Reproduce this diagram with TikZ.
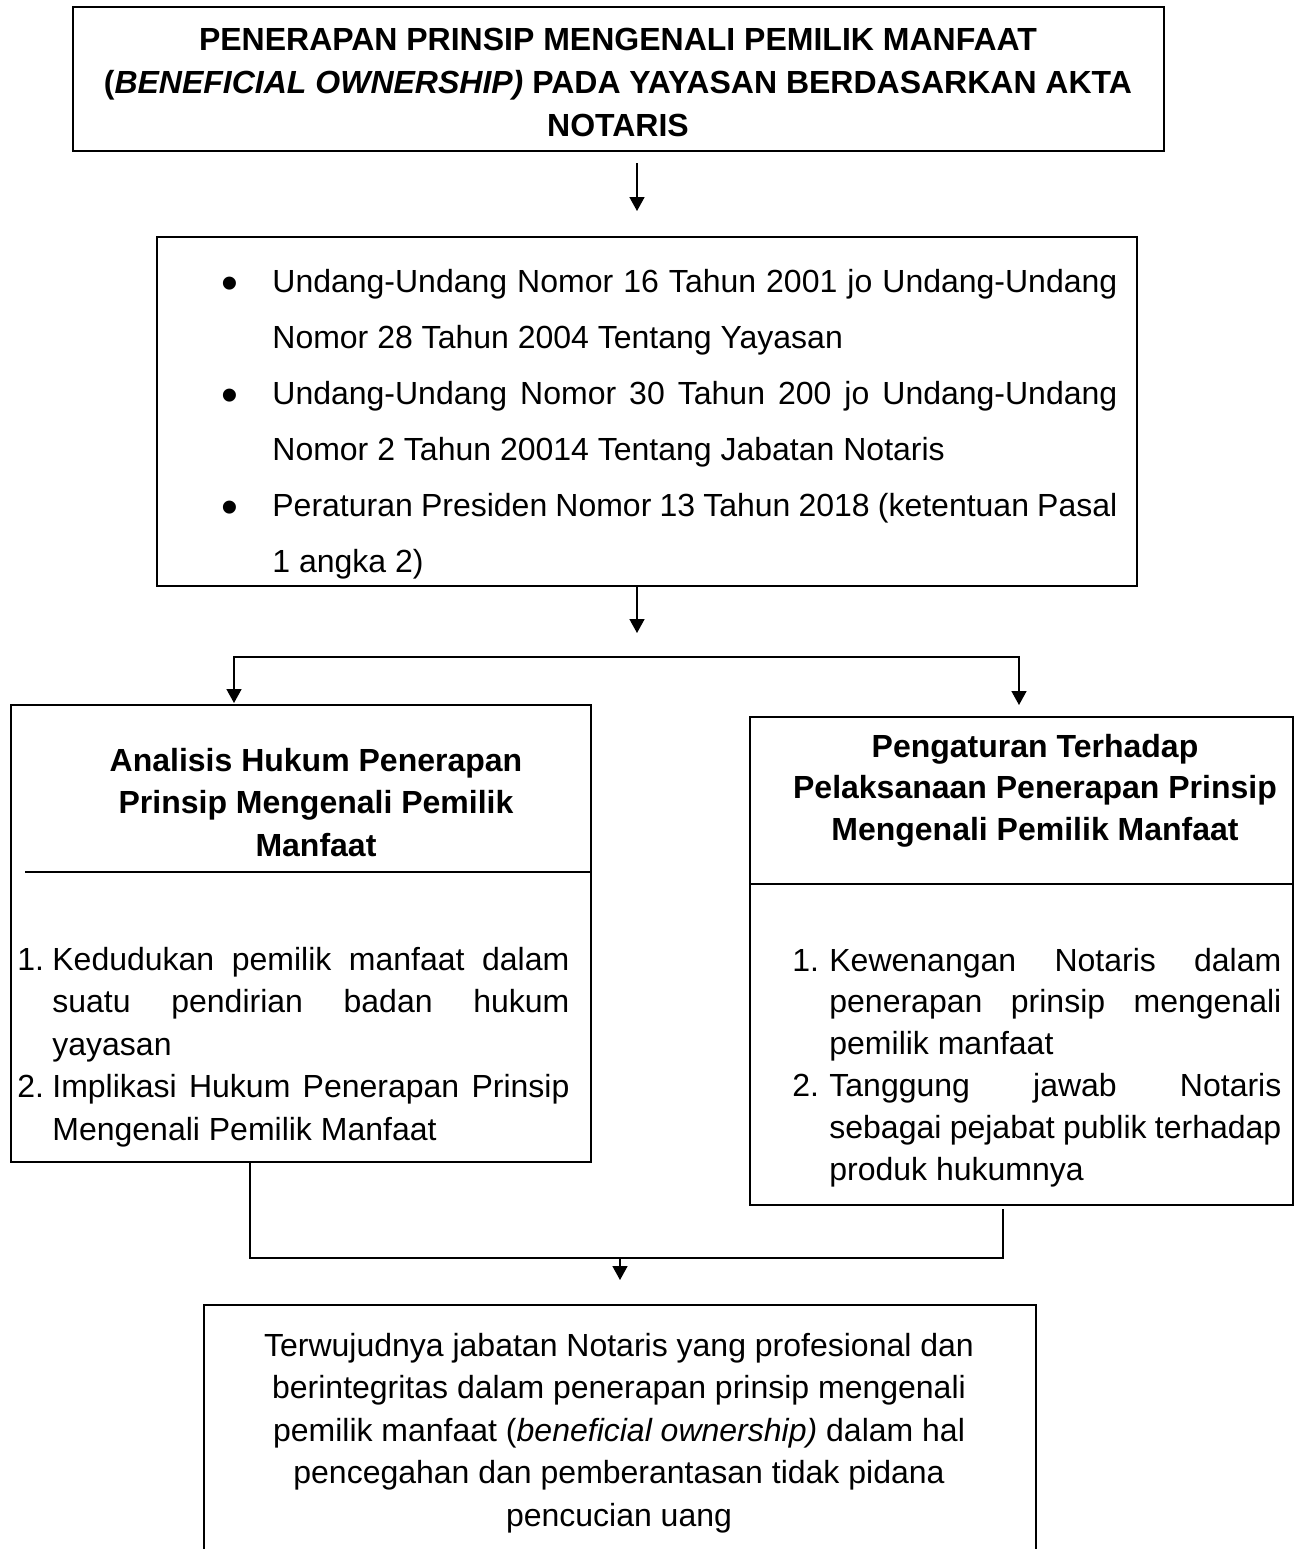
\documentclass[tikz,border=0pt]{standalone}
\usepackage{fontspec}
\usepackage{graphicx}
\setmainfont{Liberation Sans}
\usetikzlibrary{arrows.meta}
\tikzset{
  boxnode/.style={draw, line width=0.9pt, rectangle, inner sep=0pt, anchor=north west},
  txt/.style={inner sep=0pt, anchor=base},
  conn/.style={line width=0.8pt},
  arr/.style={conn, -{Triangle[length=7pt,width=7.5pt]}},
  darr/.style={conn, {Triangle[length=7pt,width=7.5pt]}-{Triangle[length=7pt,width=7.5pt]}},
}
\newcommand\jl[2]{\makebox[#1][s]{#2}}
\newcommand\bul{\leavevmode\llap{\raisebox{-3.7pt}{\scalebox{1.5}{\textbullet}}\hspace{16.8pt}}}
\begin{document}
\begin{tikzpicture}[x=0.5pt,y=-0.5pt]
\useasboundingbox (0,0) rectangle (1301,1549);
\clip (0,0) rectangle (1301,1549);
\fill[white] (0,0) rectangle (1301,1549);

% boxes
\node[boxnode, minimum width=545.5pt, minimum height=72pt] (b1) at (72,6) {};
\node[boxnode, minimum width=490pt, minimum height=174.5pt] (b2) at (156,236) {};
\node[boxnode, minimum width=290pt, minimum height=228.5pt] (bL) at (10,704) {};
\node[boxnode, minimum width=271.5pt, minimum height=244pt] (bR) at (749,716) {};
\node[boxnode, minimum width=416pt, minimum height=135pt] (bB) at (203,1304) {};

% dividers
\draw[line width=0.9pt] (25,872) -- (590,872);
\draw[line width=0.9pt] (749,884) -- (1292,884);

% texts
\node[txt] (t1) at (618,50) {\parbox[t]{545pt}{\centering\bfseries\fontsize{16}{21.5}\selectfont
PENERAPAN PRINSIP MENGENALI PEMILIK MANFAAT\\
(\textit{BENEFICIAL OWNERSHIP)} PADA YAYASAN BERDASARKAN AKTA\\
NOTARIS}};

\node[txt, anchor=base west] (t2) at (272,292) {\parbox[t]{422.5pt}{\fontsize{16}{28}\selectfont
\bul\jl{422.5pt}{Undang-Undang Nomor 16 Tahun 2001 jo Undang-Undang}\\
Nomor 28 Tahun 2004 Tentang Yayasan\\
\bul\jl{422.5pt}{Undang-Undang Nomor 30 Tahun 200 jo Undang-Undang}\\
Nomor 2 Tahun 20014 Tentang Jabatan Notaris\\
\bul\jl{422.5pt}{Peraturan Presiden Nomor 13 Tahun 2018 (ketentuan Pasal}\\
1 angka 2)}};

\node[txt] (t3) at (316,771) {\parbox[t]{280pt}{\centering\bfseries\fontsize{16}{21.25}\selectfont
Analisis Hukum Penerapan\\
Prinsip Mengenali Pemilik\\
Manfaat}};

\node[txt, anchor=base west] (t4) at (17,970) {\parbox[t]{276pt}{\fontsize{16}{21.25}\selectfont
\makebox[17.5pt][l]{1.}\jl{258.5pt}{Kedudukan pemilik manfaat dalam}\\
\hspace*{17.5pt}\jl{258.5pt}{suatu pendirian badan hukum}\\
\hspace*{17.5pt}yayasan\\
\makebox[17.5pt][l]{2.}\jl{258.5pt}{Implikasi Hukum Penerapan Prinsip}\\
\hspace*{17.5pt}Mengenali Pemilik Manfaat}};

\node[txt] (t5) at (1035,757) {\parbox[t]{270pt}{\centering\bfseries\fontsize{16}{20.75}\selectfont
Pengaturan Terhadap\\
Pelaksanaan Penerapan Prinsip\\
Mengenali Pemilik Manfaat}};

\node[txt, anchor=base west] (t6) at (792,971) {\parbox[t]{244.5pt}{\fontsize{16}{20.9}\selectfont
\makebox[18.5pt][l]{1.}\jl{226pt}{Kewenangan Notaris dalam}\\
\hspace*{18.5pt}\jl{226pt}{penerapan prinsip mengenali}\\
\hspace*{18.5pt}pemilik manfaat\\
\makebox[18.5pt][l]{2.}\jl{226pt}{Tanggung jawab Notaris}\\
\hspace*{18.5pt}\jl{226pt}{sebagai pejabat publik terhadap}\\
\hspace*{18.5pt}produk hukumnya}};

\node[txt] (t7) at (619,1356) {\parbox[t]{410pt}{\centering\fontsize{16}{21.25}\selectfont
Terwujudnya jabatan Notaris yang profesional dan\\
berintegritas dalam penerapan prinsip mengenali\\
pemilik manfaat (\textit{beneficial ownership)} dalam hal\\
pencegahan dan pemberantasan tidak pidana\\
pencucian uang}};

% connectors
\coordinate (a1s) at (637,163);
\coordinate (a1e) at (637,211);
\draw[arr] (a1s) -- (a1e);

\coordinate (a2e) at (637,633);
\draw[arr] (b2.south -| a2e) -- (a2e);

\coordinate (jL) at (234,657);
\coordinate (jR) at (1019,657);
\coordinate (tL) at (234,703);
\coordinate (tR) at (1019,705);
\draw[darr] (tL) -- (jL) -- (jR) -- (tR);

\coordinate (mL) at (250,1258);
\coordinate (mR) at (1003,1258);
\coordinate (rS) at (1003,1209);
\draw[conn] (bL.south -| mL) -- (mL) -- (mR) -- (rS);

\coordinate (mA) at (620,1258);
\coordinate (mT) at (620,1280);
\draw[arr] (mA) -- (mT);
\end{tikzpicture}
\end{document}
